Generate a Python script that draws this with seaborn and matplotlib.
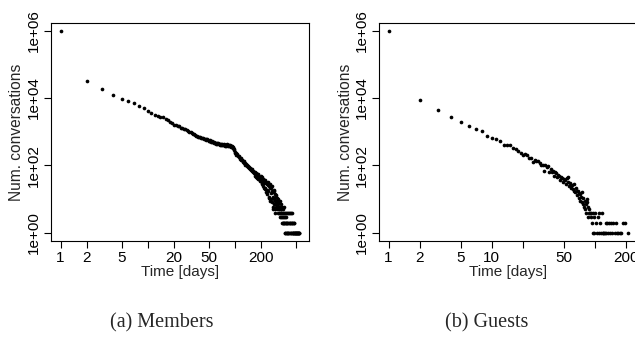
import numpy as np
import pandas as pd
import matplotlib
matplotlib.use('Agg')
import matplotlib.pyplot as plt
import seaborn as sns
from matplotlib.ticker import FixedLocator, FixedFormatter, NullLocator

# Members: conversations per lifetime (days)
members_days = (list(range(1, 101)) + list(range(102, 301, 2)) + list(range(302, 401, 2))
                + [402, 405, 408, 411, 414, 417, 420, 423, 426, 429, 432, 435, 438, 441,
                   444, 447, 450, 453, 456, 459, 462, 465, 468, 471, 474, 477, 480, 484,
                   488, 492, 496, 500, 505, 510, 515, 520, 525, 530, 535, 540, 545, 550])
members_counts = [
    966000, 32400, 18600, 12600, 9660, 8130, 6920, 5750, 4900, 4170,
    3630, 3240, 3020, 2790, 2650, 2380, 2210, 1970, 1850, 1640,
    1610, 1490, 1470, 1320, 1310, 1210, 1190, 1100, 1080, 1010,
    985, 940, 870, 850, 790, 770, 745, 720, 705, 690,
    660, 670, 640, 610, 625, 590, 575, 600, 560, 545,
    530, 555, 510, 495, 520, 480, 470, 500, 455, 470,
    440, 465, 430, 455, 420, 445, 410, 440, 425, 400,
    430, 410, 395, 425, 405, 390, 415, 400, 380, 410,
    395, 420, 400, 385, 405, 375, 395, 380, 365, 390,
    370, 355, 375, 350, 340, 320, 300, 290, 255, 235,
    # 102..300 step 2
    230, 205, 215, 190, 175, 185, 160, 170, 150, 145,
    150, 128, 135, 118, 122, 105, 112, 98, 105, 90,
    97, 84, 92, 78, 85, 72, 80, 70, 76, 62,
    70, 58, 66, 55, 62, 50, 58, 47, 56, 44,
    52, 41, 55, 40, 46, 36, 44, 34, 48, 35,
    30, 45, 28, 40, 24, 38, 22, 36, 31, 20,
    36, 21, 32, 16, 30, 19, 28, 14, 33, 17,
    26, 12, 24, 11, 28, 10, 22, 9, 21, 15,
    10, 24, 8, 18, 5, 16, 12, 6, 19, 10,
    7, 17, 5, 14, 9, 4, 13, 7, 12, 6,
    # 302..400 step 2
    9, 6, 11, 5, 8, 4, 7, 10, 5, 6,
    4, 8, 3, 6, 4, 9, 5, 3, 7, 4,
    5, 2, 6, 4, 3, 2, 5, 4, 2, 3,
    6, 2, 4, 3, 2, 1, 4, 2, 3, 1,
    2, 4, 1, 2, 3, 1, 2, 1, 4, 2,
    # tail
    1, 4, 2, 1, 4, 2, 1, 2, 4, 1, 2, 1, 4, 2, 1, 2, 4, 1, 2, 1, 2,
    1, 1, 2, 1, 2, 1, 1, 1, 1, 1, 1, 1, 1, 1, 1, 1, 1, 1, 1, 1, 1,
]

# Guests
guests_days = (list(range(1, 89))
               + [90, 91, 92, 93, 95, 96, 97, 98, 100, 102, 105, 106, 108, 110, 112,
                  114, 116, 118, 120, 122, 124, 126, 128, 130, 133, 136, 140, 143,
                  146, 150, 154, 158, 163, 168, 173, 177, 185, 196, 210])
guests_counts = [
    966000, 8900, 4270, 2690, 2000, 1500, 1230, 1070, 740, 645,
    590, 537, 410, 415, 405, 325, 300, 270, 240, 205,
    225, 200, 170, 162, 126, 145, 138, 138, 120, 105,
    100, 69, 100, 89, 95, 66, 76, 62, 69, 49,
    63, 58, 46, 52, 49, 38, 46, 44, 33, 40,
    36, 28, 42, 32, 45, 24, 30, 25, 21, 27,
    20, 17, 28, 16, 21, 13, 18, 18, 11, 15,
    14, 9, 12, 8, 16, 7, 11, 6, 9, 5,
    7, 4, 10, 8, 6, 3, 4, 5,
    # tail
    4, 3, 4, 2, 1, 4, 1, 3, 4, 2,
    1, 3, 4, 1, 2, 1, 4, 1, 1, 1,
    1, 2, 1, 2, 1, 2, 1, 2, 1, 2,
    1, 2, 1, 1, 1, 1, 2, 2, 1,
]

y_ticks = [1, 1e2, 1e4, 1e6]
y_labels = ['1e+00', '1e+02', '1e+04', '1e+06']
members_xticks = [1, 2, 5, 10, 20, 50, 100, 200, 500]
members_xlabels = ['1', '2', '5', '', '20', '50', '', '200', '']
guests_xticks = [1, 2, 5, 10, 20, 50, 100, 200]
guests_xlabels = ['1', '2', '5', '10', '', '50', '', '200']

df_m = pd.DataFrame({'days': members_days, 'conversations': members_counts})
df_g = pd.DataFrame({'days': guests_days, 'conversations': guests_counts})

sns.set_style('white')
plt.rcParams['font.family'] = ['Liberation Sans', 'DejaVu Sans']

fig = plt.figure(figsize=(6.35, 3.42), dpi=100)
ax1 = fig.add_axes([51 / 635, 1 - 241 / 342, 258 / 635, 218 / 342])
ax2 = fig.add_axes([379 / 635, 1 - 241 / 342, 259 / 635, 218 / 342])


def draw(ax, df, xlim, xticks, xlabels):
    sns.scatterplot(data=df, x='days', y='conversations', ax=ax, s=7,
                    color='black', linewidth=0, legend=False)
    ax.set_xscale('log')
    ax.set_yscale('log')
    ax.set_xlim(*xlim)
    ax.set_ylim(10 ** -0.239, 10 ** 6.224)
    ax.xaxis.set_major_locator(FixedLocator(xticks))
    ax.xaxis.set_major_formatter(FixedFormatter(xlabels))
    ax.xaxis.set_minor_locator(NullLocator())
    ax.yaxis.set_major_locator(FixedLocator(y_ticks))
    ax.yaxis.set_major_formatter(FixedFormatter(y_labels))
    ax.yaxis.set_minor_locator(NullLocator())
    for lab in ax.get_yticklabels():
        lab.set_rotation(90)
        lab.set_va('center')
    ax.tick_params(direction='out', length=5, width=0.8, pad=2,
                   labelsize=11, color='black', labelcolor='black')
    ax.tick_params(axis='both', which='both', bottom=True, left=True)
    for sp in ax.spines.values():
        sp.set_visible(True)
        sp.set_color('black')
        sp.set_linewidth(0.8)
    ax.set_xlabel('Time [days]', fontsize=11, labelpad=0)
    ax.set_ylabel('Num. conversations', fontsize=11.2, labelpad=2)


draw(ax1, df_m, (10 ** -0.11, 10 ** 2.85), members_xticks, members_xlabels)
draw(ax2, df_g, (10 ** -0.093, 10 ** 2.415), guests_xticks, guests_xlabels)

fig.text(162 / 635, 1 - 323 / 342, '(a) Members', ha='center', va='center',
         family=['Liberation Serif'], fontsize=14.5)
fig.text(487 / 635, 1 - 323 / 342, '(b) Guests', ha='center', va='center',
         family=['Liberation Serif'], fontsize=14.5)

fig.savefig('out.png', dpi=100)
